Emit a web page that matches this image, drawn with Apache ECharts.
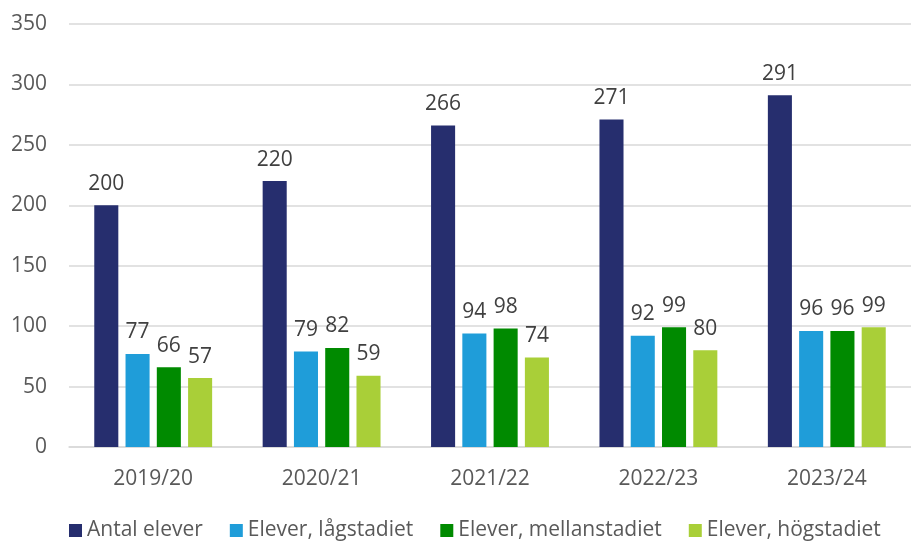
<!DOCTYPE html>
<html lang="sv">
<head>
    <meta charset="UTF-8">
    <title>Elever</title>
    <script src="https://cdn.jsdelivr.net/npm/echarts@6/dist/echarts.min.js"></script>
    <style>
        html, body { margin: 0; padding: 0; background: #fff; }
        #main { width: 911px; height: 542px; }
    </style>
</head>
<body>
<div id="main"></div>
<script>
    // data
    var years = ['2019/20', '2020/21', '2021/22', '2022/23', '2023/24'];
    var antal = [200, 220, 266, 271, 291];
    var lag = [77, 79, 94, 92, 96];
    var mellan = [66, 82, 98, 99, 96];
    var hog = [57, 59, 74, 80, 99];
    var names = ['Antal elever', 'Elever, lågstadiet', 'Elever, mellanstadiet', 'Elever, högstadiet'];
    var colors = ['#262E6E', '#1F9DD9', '#008A00', '#A9CF38'];

    var font = '"Open Sans", "DejaVu Sans", sans-serif';
    var myChart = echarts.init(document.getElementById('main'));

    function bar(i, data) {
        return {
            name: names[i],
            type: 'bar',
            data: data,
            barGap: '30%',
            barCategoryGap: '30%',
            itemStyle: { color: colors[i] },
            label: {
                show: true,
                position: 'top',
                distance: 11,
                color: '#404040',
                fontFamily: font,
                fontSize: 21
            }
        };
    }

    var option = {
        animation: false,
        color: colors,
        grid: { left: 69, right: 0, top: 24, bottom: 95 },
        legend: {
            bottom: -4,
            left: 64,
            itemWidth: 13,
            itemHeight: 13,
            itemGap: 27,
            icon: 'rect',
            textStyle: { color: '#595959', fontFamily: font, fontSize: 21 }
        },
        xAxis: {
            type: 'category',
            data: years,
            axisLine: { lineStyle: { color: '#D9D9D9', width: 1.5 } },
            axisTick: { show: false },
            axisLabel: { color: '#595959', fontFamily: font, fontSize: 21, margin: 22 }
        },
        yAxis: {
            type: 'value',
            min: 0,
            max: 350,
            interval: 50,
            axisLine: { show: false },
            axisTick: { show: false },
            splitLine: { lineStyle: { color: '#D9D9D9', width: 1.5 } },
            axisLabel: { color: '#595959', fontFamily: font, fontSize: 21, margin: 22 }
        },
        series: [bar(0, antal), bar(1, lag), bar(2, mellan), bar(3, hog)]
    };

    myChart.setOption(option);
</script>
</body>
</html>
